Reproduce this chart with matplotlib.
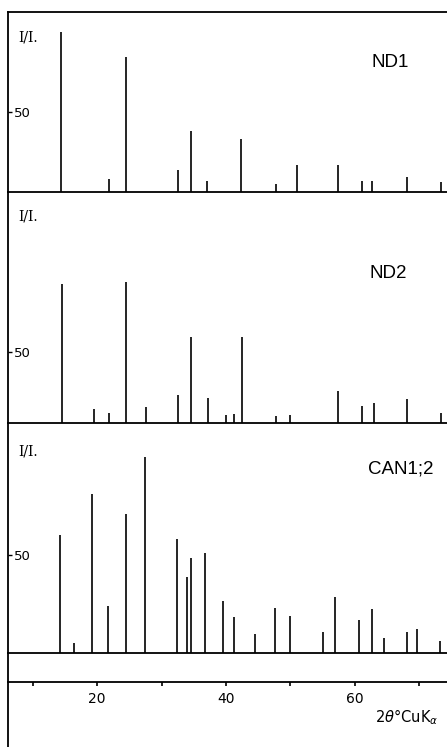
import matplotlib
matplotlib.use("Agg")
import matplotlib.pyplot as plt

# ---- data (2theta positions, relative intensities) ----
nd1_pos = [14.37, 21.88, 24.42, 32.6, 34.53, 37.1, 42.3, 47.74, 51.1, 57.38, 61.1, 62.76, 68.2, 73.4]
nd1_int = [100, 8, 84.6, 13.8, 38, 7, 33, 5, 17, 16.7, 7, 6.7, 9.6, 6.5]

nd2_pos = [14.57, 19.55, 21.83, 24.42, 27.53, 32.5, 34.53, 37.26, 40.0, 41.2, 42.46,
           47.74, 50.0, 57.48, 61.1, 63.0, 68.2, 73.4]
nd2_int = [98.4, 10, 7, 100, 11.3, 20, 61, 18, 5.4, 6.4, 61,
           4.7, 5.4, 23, 12, 14, 17, 7]

can_pos = [14.26, 16.34, 19.23, 21.63, 24.42, 27.42, 32.45, 34.0, 34.57, 36.75, 39.5,
           41.2, 44.5, 47.6, 50.0, 55.14, 57.0, 60.74, 62.76, 64.58, 68.15, 69.66, 73.33]
can_int = [60.3, 5, 81.4, 24, 71, 100.3, 58.3, 38.8, 48.6, 51.1, 26.8,
           18.6, 9.7, 23.2, 19.1, 10.8, 28.5, 16.8, 22.4, 7.9, 10.9, 12.1, 6.3]

panel_names = ["ND1", "ND2", "CAN1;2"]
x_major = [20, 40, 60]
x_minor = [10, 30, 50, 70]
y_tick = [50]

XMIN, XMAX = 6.13, 74.37

W, H = 447, 747
fig = plt.figure(figsize=(W / 100, H / 100), dpi=100)

def frac_rect(top_px, bot_px):
    return [8 / W, (H - bot_px) / H, (W - 8) / W, (bot_px - top_px) / H]

panels = [
    (nd1_pos, nd1_int, 12, 192, 112.5, (0.870, 0.722), 0.856),
    (nd2_pos, nd2_int, 192, 423, 163.8, (0.866, 0.649), 0.896),
    (can_pos, can_int, 423, 653, 117.9, (0.895, 0.800), 0.878),
]

lw_spine = 1.3
for i, (pos, inten, top, bot, ytop, lblxy, iy) in enumerate(panels):
    ax = fig.add_axes(frac_rect(top, bot))
    ax.vlines(pos, 0, inten, color="black", linewidth=1.2)
    ax.set_xlim(XMIN, XMAX)
    ax.set_ylim(0, ytop)
    ax.spines["right"].set_visible(False)
    ax.spines["top"].set_visible(i == 0)
    for s in ["left", "bottom", "top"]:
        ax.spines[s].set_linewidth(lw_spine)
    ax.set_xticks([])
    ax.set_yticks(y_tick)
    ax.set_yticklabels([str(v) for v in y_tick])
    ax.tick_params(axis="y", direction="in", length=3, width=1.0, pad=-4.5,
                   labelsize=9.5)
    for t in ax.get_yticklabels():
        t.set_horizontalalignment("left")
    ax.text(lblxy[0], lblxy[1], panel_names[i], transform=ax.transAxes,
            ha="center", va="center", fontsize=13.5, family="Liberation Sans")
    ax.text(0.023, iy, "I/I.", transform=ax.transAxes, ha="left", va="center",
            fontsize=10, family="DejaVu Serif")
    ax.patch.set_alpha(0)

# bottom strip with the 2theta axis
ax4 = fig.add_axes([8 / W, 0, (W - 8) / W, 94 / H])
ax4.set_xlim(XMIN, XMAX)
ax4.set_ylim(0, 1)
ax4.spines["right"].set_visible(False)
ax4.spines["top"].set_visible(False)
ax4.spines["left"].set_linewidth(lw_spine)
ax4.spines["bottom"].set_linewidth(lw_spine)
ax4.spines["bottom"].set_position(("axes", (747 - 682) / 94))
ax4.set_yticks([])
ax4.set_xticks(x_major)
ax4.set_xticklabels([str(v) for v in x_major])
ax4.set_xticks(x_minor, minor=True)
ax4.tick_params(axis="x", which="both", direction="out", length=3, width=1.2,
                pad=4, labelsize=10)
ax4.text(0.909, 0.319, r"2$\theta$°CuK$_{\alpha}$", transform=ax4.transAxes,
         ha="center", va="center", fontsize=10.5)
ax4.patch.set_alpha(0)

fig.savefig("out.png", dpi=100)
